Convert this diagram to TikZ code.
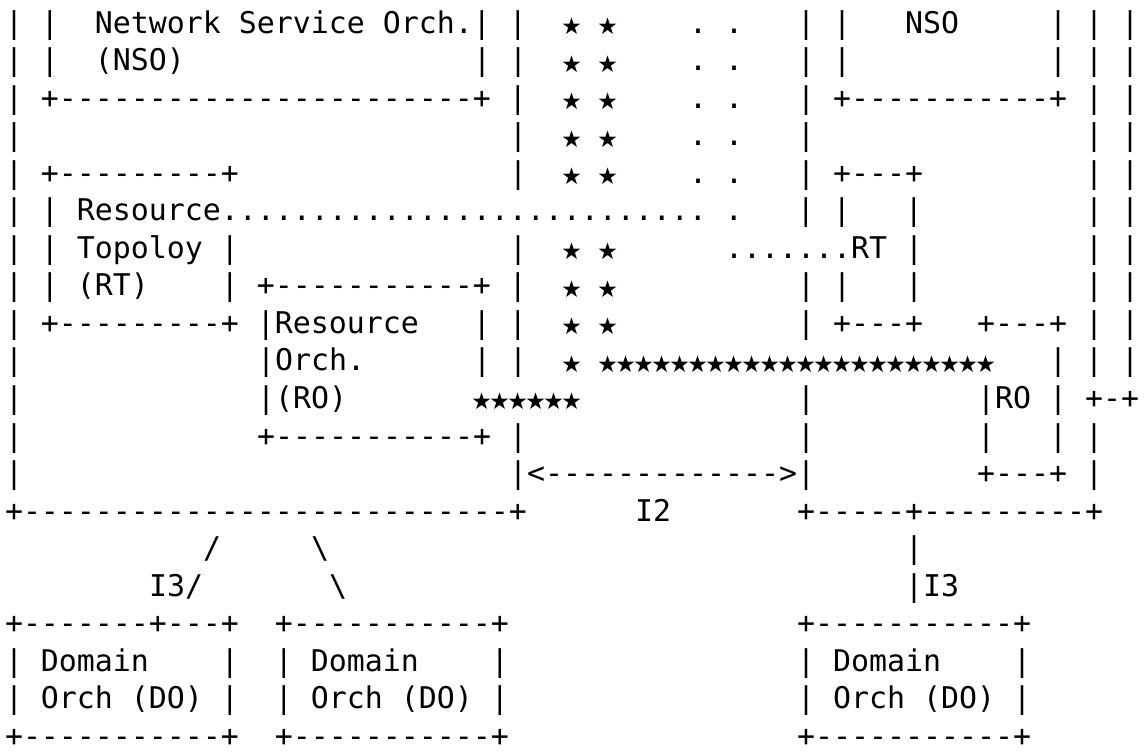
\documentclass[tikz,border=0pt]{standalone}
\usepackage{graphicx}
\usepackage{fontspec}
\setmonofont{DejaVu Sans Mono}
\newfontfamily\starfont{DejaVu Sans}
\frenchspacing

% one character cell of the monospaced grid
\newcommand\gap[1]{\kern#1\fontdimen2\font}
% a star drawn in one character cell, centred a little above the baseline
\newcommand\st{\makebox[\fontdimen2\font]{\smash{\scalebox{1.55}{\raisebox{-0.18em}{\starfont ⋆}}}}}
% repeat some text a number of times
\newcount\repcnt
\newcommand\rep[2]{\repcnt=0 \loop\ifnum\repcnt<#1 #2\advance\repcnt by 1 \repeat}

\tikzset{
  asciirow/.style={anchor=base west, inner sep=0pt, outer sep=0pt,
    font=\ttfamily\fontsize{14.95pt}{18.75pt}\selectfont\frenchspacing}
}

\begin{document}
\begin{tikzpicture}[x=1pt,y=1pt]
\fill[white] (0,0) rectangle (573.5,375.5);
\useasboundingbox (0,0) rectangle (573.5,375.5);

\node[asciirow] (r1)  at (2.5,358.75) {| |\gap{2}Network Service Orch.| |\gap{2}\st{} \st{}\gap{4}. .\gap{3}| |\gap{3}NSO\gap{5}| | |};
\node[asciirow] (r2)  at (2.5,340)    {| |\gap{2}(NSO)\gap{16}| |\gap{2}\st{} \st{}\gap{4}. .\gap{3}| |\gap{11}| | |};
\node[asciirow] (r3)  at (2.5,321.25) {| +\rep{23}{-}+ |\gap{2}\st{} \st{}\gap{4}. .\gap{3}| +\rep{11}{-}+ | |};
\node[asciirow] (r4)  at (2.5,302.5)  {|\gap{27}|\gap{2}\st{} \st{}\gap{4}. .\gap{3}|\gap{15}| |};
\node[asciirow] (r5)  at (2.5,283.75) {| +\rep{9}{-}+\gap{15}|\gap{2}\st{} \st{}\gap{4}. .\gap{3}| +---+\gap{9}| |};
\node[asciirow] (r6)  at (2.5,265)    {| | Resource\rep{27}{.} .\gap{3}| |\gap{3}|\gap{9}| |};
\node[asciirow] (r7)  at (2.5,246.25) {| | Topoloy |\gap{15}|\gap{2}\st{} \st{}\gap{6}\rep{7}{.}RT |\gap{9}| |};
\node[asciirow] (r8)  at (2.5,227.5)  {| | (RT)\gap{4}| +\rep{11}{-}+ |\gap{2}\st{} \st{}\gap{10}| |\gap{3}|\gap{9}| |};
\node[asciirow] (r9)  at (2.5,208.75) {| +\rep{9}{-}+ |Resource\gap{3}| |\gap{2}\st{} \st{}\gap{10}| +---+\gap{3}+---+ | |};
\node[asciirow] (r10) at (2.5,190)    {|\gap{13}|Orch.\gap{6}| |\gap{2}\st{} \rep{22}{\st}\gap{3}| | |};
\node[asciirow] (r11) at (2.5,171.25) {|\gap{13}|(RO)\gap{7}\rep{6}{\st}\gap{12}|\gap{9}|RO | +-+};
\node[asciirow] (r12) at (2.5,152.5)  {|\gap{13}+\rep{11}{-}+ |\gap{15}|\gap{9}|\gap{3}| |};
\node[asciirow] (r13) at (2.5,133.75) {|\gap{27}|<\rep{13}{-}>|\gap{9}+---+ |};
\node[asciirow] (r14) at (2.5,115)    {+\rep{27}{-}+\gap{6}I2\gap{7}+-----+\rep{9}{-}+};
\node[asciirow] (r15) at (2.5,96.25)  {\gap{11}/\gap{5}\textbackslash\gap{32}|};
\node[asciirow] (r16) at (2.5,77.5)   {\gap{8}I3/\gap{7}\textbackslash\gap{31}|I3};
\node[asciirow] (r17) at (2.5,58.75)  {+\rep{7}{-}+---+\gap{2}+\rep{11}{-}+\gap{16}+\rep{11}{-}+};
\node[asciirow] (r18) at (2.5,40)     {| Domain\gap{4}|\gap{2}| Domain\gap{4}|\gap{16}| Domain\gap{4}|};
\node[asciirow] (r19) at (2.5,21.25)  {| Orch (DO) |\gap{2}| Orch (DO) |\gap{16}| Orch (DO) |};
\node[asciirow] (r20) at (2.5,2.5)    {+\rep{11}{-}+\gap{2}+\rep{11}{-}+\gap{16}+\rep{11}{-}+};
\end{tikzpicture}
\end{document}
